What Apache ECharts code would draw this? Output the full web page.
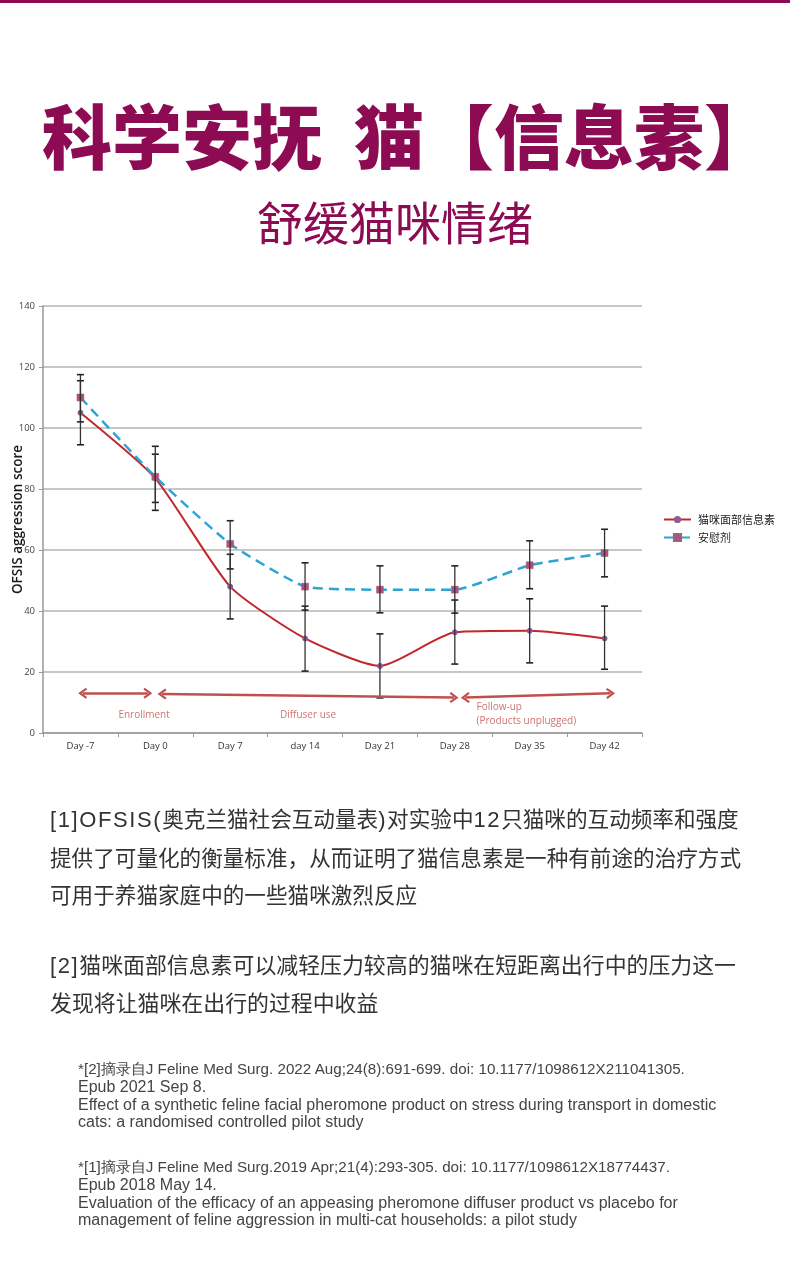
<!DOCTYPE html>
<html><head><meta charset="utf-8">
<script src="https://cdn.jsdelivr.net/npm/echarts@6/dist/echarts.min.js"></script>
<style>
html,body{margin:0;padding:0;background:#fff;}
#page{position:relative;width:790px;height:1279px;overflow:hidden;background:#fff;}
#chart{position:absolute;left:0;top:0;width:790px;height:1279px;}
.t{position:absolute;white-space:nowrap;}
#bar{position:absolute;left:0;top:0;width:790px;height:3px;background:#8c0b52;}
#title{left:13px;width:790px;top:92px;text-align:center;font-family:"Noto Sans CJK SC";font-weight:900;font-size:70px;line-height:84px;color:#8c0b52;}
#sub{left:0;width:790px;top:190px;text-align:center;font-family:"Noto Sans CJK SC";font-weight:400;font-size:46px;line-height:60px;color:#8c0b52;}
.p{left:50px;font-family:"Noto Sans CJK SC";font-size:21.6px;line-height:37px;color:#333;}
.p .l{font-family:"Liberation Sans",Arial,sans-serif;font-size:22px;letter-spacing:1.6px;}
.r{left:78px;font-family:"Liberation Sans",Arial,sans-serif;font-size:16px;line-height:17.8px;color:#444;}
.r span{display:block;height:17.8px;}
.r .d{font-size:15.2px;}
</style></head>
<body><div id="page">
<div id="chart"></div>
<div id="bar"></div>
<div class="t" id="title">科学安抚&nbsp;&nbsp;猫【信息素】</div>
<div class="t" id="sub">舒缓猫咪情绪</div>
<div class="t p" style="top:799px"><span class="l">[1]OFSIS(</span>奥克兰猫社会互动量表<span class="l">)</span>对实验中<span class="l">12</span>只猫咪的互动频率和强度<br>提供了可量化的衡量标准，从而证明了猫信息素是一种有前途的治疗方式<br>可用于养猫家庭中的一些猫咪激烈反应</div>
<div class="t p" style="top:946px;line-height:36px;font-size:21.9px"><span class="l">[2]</span>猫咪面部信息素可以减轻压力较高的猫咪在短距离出行中的压力这一<br>发现将让猫咪在出行的过程中收益</div>
<div class="t r" style="top:1060px"><span class="d">*[2]摘录自J Feline Med Surg. 2022 Aug;24(8):691-699. doi: 10.1177/1098612X211041305.</span><span>Epub 2021 Sep 8.</span><span>Effect of a synthetic feline facial pheromone product on stress during transport in domestic</span><span>cats: a randomised controlled pilot study</span></div>
<div class="t r" style="top:1158px"><span class="d">*[1]摘录自J Feline Med Surg.2019 Apr;21(4):293-305. doi: 10.1177/1098612X18774437.</span><span>Epub 2018 May 14.</span><span>Evaluation of the efficacy of an appeasing pheromone diffuser product vs placebo for</span><span>management of feline aggression in multi-cat households: a pilot study</span></div>
</div>
<script>
var categories = ['Day -7','Day 0','Day 7','day 14','Day 21','Day 28','Day 35','Day 42'];
var yTicks = [0,20,40,60,80,100,120,140];
var seriesNames = ['猫咪面部信息素','安慰剂'];
var pheromone = [105, 83.5, 48, 31, 22, 33, 33.5, 31];
var pheromoneLow = [94.5, 75.6, 37.4, 20.3, 11.5, 22.6, 23, 20.9];
var pheromoneHigh = [115.5, 91.4, 58.6, 41.6, 32.5, 43.6, 44, 41.6];
var placebo = [110, 84, 62, 48, 47, 47, 55, 59];
var placeboLow = [102, 73, 53.8, 40.3, 39.4, 39.3, 47.3, 51.2];
var placeboHigh = [117.5, 94, 69.6, 55.8, 54.8, 54.8, 63, 66.8];
var phaseArrowsX = [[0.53, 1.40], [1.59, 5.49], [5.64, 7.58]];
var phaseArrowsY = [[13, 13], [12.8, 11.6], [11.6, 13]];
var phaseText = ['Enrollment', 'Diffuser use', 'Follow-up', '(Products unplugged)'];
var phaseTextX = [1.35, 3.54, 5.79, 5.79];
var phaseTextY = [5.9, 5.9, 8.5, 4.0];

var chart = echarts.init(document.getElementById('chart'), null, {renderer:'canvas'});

function errData(lo, hi){ return lo.map(function(v,i){ return [i, v, hi[i]]; }); }
function errRender(params, api){
  var x = api.value(0), lo = api.value(1), hi = api.value(2);
  var p1 = api.coord([x, lo]), p2 = api.coord([x, hi]);
  var w = 3.5, st = {stroke:'#333', lineWidth:1.3};
  return {type:'group', children:[
    {type:'line', shape:{x1:p1[0],y1:p1[1],x2:p2[0],y2:p2[1]}, style:st},
    {type:'line', shape:{x1:p1[0]-w,y1:p1[1],x2:p1[0]+w,y2:p1[1]}, style:{stroke:'#222',lineWidth:1.6}},
    {type:'line', shape:{x1:p2[0]-w,y1:p2[1],x2:p2[0]+w,y2:p2[1]}, style:{stroke:'#222',lineWidth:1.6}}
  ]};
}
var arrowLines = phaseArrowsX.map(function(xs,i){
  return [{coord:[xs[0], phaseArrowsY[i][0]]},{coord:[xs[1], phaseArrowsY[i][1]]}];
});
var textPts = phaseText.map(function(t,i){
  return {value:[phaseTextX[i], phaseTextY[i]], label:{formatter:t, align: i<2?'center':'left'}};
});
var chevron = 'path://M5,0 L10,7 L8.4,8.2 L5,3.2 L1.6,8.2 L0,7 Z';

chart.setOption({
  animation:false,
  textStyle:{fontFamily:'"Open Sans", "Noto Sans CJK SC", sans-serif'},
  grid:{left:43, top:306, width:599, height:427, containLabel:false, outerBoundsMode:'none'},
  legend:{
    orient:'vertical', left:663, top:514, padding:0, itemWidth:27, itemHeight:9, itemGap:7,
    textStyle:{fontSize:11, color:'#222', fontFamily:'"Noto Sans CJK SC"', padding:[0,0,0,2]},
    data:seriesNames
  },
  xAxis:[{
    type:'category', data:categories, boundaryGap:true,
    axisLine:{lineStyle:{color:'#999', width:1.5}},
    axisTick:{show:true, length:4, lineStyle:{color:'#999'}},
    axisLabel:{fontSize:9.5, color:'#333', margin:9},
    splitLine:{show:false}
  },{
    type:'value', min:0, max:8, show:false
  }],
  yAxis:{
    type:'value', min:0, max:140, interval:20,
    name:'OFSIS aggression score', nameLocation:'middle', nameGap:18, nameMoveOverlap:false,
    nameTextStyle:{fontSize:13.5, fontWeight:600, color:'#1a1a1a'},
    axisLine:{show:true, lineStyle:{color:'#999', width:1.5}},
    axisTick:{show:true, length:4, lineStyle:{color:'#999'}},
    axisLabel:{fontSize:9.5, color:'#444', margin:8},
    splitLine:{lineStyle:{color:'#b4b4b4', width:1.5}}
  },
  series:[
    {
      name:seriesNames[0], type:'line', data:pheromone, smooth:0.2, z:3,
      symbol:'circle', symbolSize:5,
      lineStyle:{color:'#c1272d', width:2},
      itemStyle:{color:'#8e5b8e', borderColor:'#8e5b8e'}
    },
    {
      name:seriesNames[1], type:'line', data:placebo, smooth:0.15, z:3,
      symbol:'rect', symbolSize:7,
      lineStyle:{color:'#2ea3d6', width:2.5, type:[10,6]},
      itemStyle:{color:'#b0507a', borderColor:'#a06080', borderWidth:0.5}
    },
    {type:'custom', renderItem:errRender, data:errData(pheromoneLow, pheromoneHigh), z:4, silent:true},
    {type:'custom', renderItem:errRender, data:errData(placeboLow, placeboHigh), z:4, silent:true},
    {
      type:'line', xAxisIndex:1, data:[], silent:true,
      markLine:{
        silent:true, symbol:[chevron, chevron], symbolSize:[11,9],
        lineStyle:{color:'#c0504d', width:2.5, type:'solid'},
        itemStyle:{color:'#c0504d'},
        label:{show:false},
        data:arrowLines
      }
    },
    {
      type:'scatter', xAxisIndex:1, data:textPts, symbolSize:1, silent:true,
      itemStyle:{color:'transparent'},
      label:{show:true, position:'inside', fontSize:10, color:'#c0504d'}
    }
  ]
});
</script>
</body></html>
